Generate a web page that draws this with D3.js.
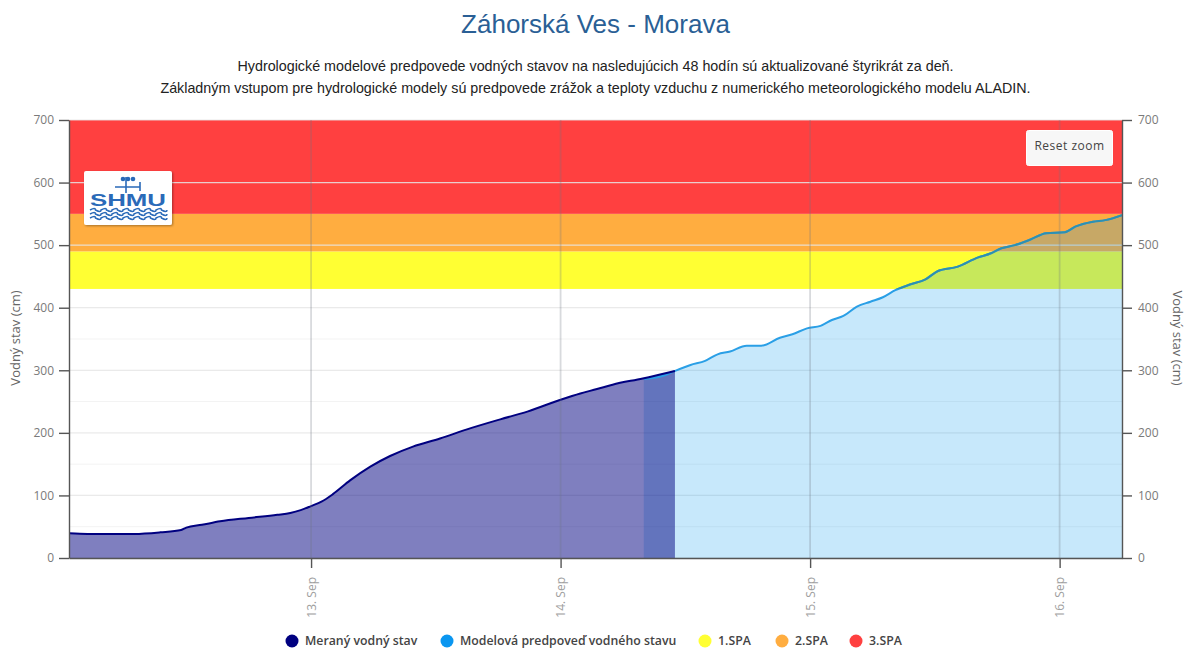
<!DOCTYPE html>
<html>
<head>
<meta charset="utf-8">
<title>Záhorská Ves - Morava</title>
<script src="https://cdn.jsdelivr.net/npm/d3@7"></script>
<style>
  html, body { margin: 0; padding: 0; background: #fff; }
  svg { display: block; }
  .axis text { font-family: "Open Sans", sans-serif; font-size: 12px; fill: #7a7a7a; }
  .axis path, .axis line { stroke: #555; stroke-width: 1.4; }
</style>
</head>
<body>
<svg id="chart" width="1200" height="671"></svg>
<script>
// hours counted from 12 Sep 00:00
var measuredHours = [0.75, 2.5, 7, 9.5, 11.5, 12, 13.5, 15.25, 18, 20.75, 22, 23, 24, 25, 26.1, 27.75, 29.7, 31.6, 33.8, 36.4, 39, 42.2, 44.8, 48, 49.9, 51.5, 53, 55.9, 59];
var measuredLevels = [39.5, 38.5, 38.5, 41, 44.7, 48.5, 53, 58.6, 64, 69, 72, 76.5, 83, 90, 102, 124, 146, 163, 178, 191, 205.6, 221.6, 234, 253, 263, 270, 277, 287, 299];

var forecastHours = [56, 58, 59, 60.5, 61.9, 63.1, 64.3, 65.9, 67.3, 69.1, 70.3, 71.7, 73, 74.1, 75.2, 76.5, 77.8, 79, 80.2, 81.6, 83.1, 84.3, 86.2, 88.1, 89.4, 90.4, 91.7, 93.2, 94.7, 96.5, 97.5, 99.2, 100.4, 102];
var forecastLevels = [286, 292, 299, 308.5, 315, 325.5, 330, 339.3, 339.3, 352, 357.5, 367, 371, 380.4, 386.8, 401.7, 409.6, 416.7, 428, 437, 445.4, 458.7, 465.6, 480, 487, 495, 500, 509, 519, 520.5, 529.5, 537.5, 540, 548];

var bandNames = ["1.SPA", "2.SPA", "3.SPA"];
var bandFrom = [430, 490, 550];
var bandTo = [490, 550, 700];
var bandColors = ["#ffff33", "#ffad40", "#ff4040"];

var yTicks = [0, 100, 200, 300, 400, 500, 600, 700];
var yMinorTicks = [50, 150, 250, 350];
var dayTicks = [13, 14, 15, 16];

var legendNames = ["Meraný vodný stav", "Modelová predpoveď vodného stavu"].concat(bandNames);
var legendColors = ["#000080", "#0a96f0"].concat(bandColors);
var legendX = [292, 447, 705, 782, 856];

var titleText = "Záhorská Ves - Morava";
var subtitleLines = [
  "Hydrologické modelové predpovede vodných stavov na nasledujúcich 48 hodín sú aktualizované štyrikrát za deň.",
  "Základným vstupom pre hydrologické modely sú predpovede zrážok a teploty vzduchu z numerického meteorologického modelu ALADIN."
];

var plotLeft = 69, plotRight = 1122, plotTop = 120, plotBottom = 558;
var base = new Date(2020, 8, 12);

function toDate(h) { return d3.timeMinute.offset(base, Math.round(h * 60)); }

var x = d3.scaleTime().domain([toDate(0.72), toDate(102)]).range([plotLeft, plotRight]);
var y = d3.scaleLinear().domain([0, 700]).range([plotBottom, plotTop]);

var svg = d3.select("#chart");

/* Title and subtitle */
svg.append("text").attr("x", 595.5).attr("y", 33).attr("text-anchor", "middle")
  .style("font-family", "'Liberation Sans', Arial, sans-serif").style("font-size", "26px")
  .style("fill", "#2a5f95").text(titleText);

svg.selectAll(".sub").data(subtitleLines).enter().append("text")
  .attr("class", "sub").attr("x", 595.5).attr("y", function(d, i) { return 71 + i * 22; })
  .attr("text-anchor", "middle")
  .style("font-family", "'Liberation Sans', Arial, sans-serif").style("font-size", "14.3px")
  .style("fill", "#222").text(function(d) { return d; });

/* Plot bands */
svg.selectAll(".band").data(bandFrom).enter().append("rect")
  .attr("class", "band").attr("x", plotLeft).attr("width", plotRight - plotLeft)
  .attr("y", function(d, i) { return y(bandTo[i]); })
  .attr("height", function(d, i) { return y(d) - y(bandTo[i]); })
  .attr("fill", function(d, i) { return bandColors[i]; });

/* Grid */
svg.selectAll(".minor").data(yMinorTicks).enter().append("line")
  .attr("x1", plotLeft).attr("x2", plotRight)
  .attr("y1", function(d) { return y(d); }).attr("y2", function(d) { return y(d); })
  .attr("stroke", "#f3f3f3").attr("stroke-width", 1);

svg.selectAll(".major").data(yTicks).enter().append("line")
  .attr("x1", plotLeft).attr("x2", plotRight)
  .attr("y1", function(d) { return y(d); }).attr("y2", function(d) { return y(d); })
  .attr("stroke", "#e6e6e6").attr("stroke-opacity", 0.85).attr("stroke-width", 1.2);

/* Series */
var areaGen = d3.area().curve(d3.curveMonotoneX)
  .x(function(d) { return x(toDate(d[0])); }).y0(y(0)).y1(function(d) { return y(d[1]); });
var lineGen = d3.line().curve(d3.curveMonotoneX)
  .x(function(d) { return x(toDate(d[0])); }).y(function(d) { return y(d[1]); });

var measured = d3.zip(measuredHours, measuredLevels);
var forecast = d3.zip(forecastHours, forecastLevels);

svg.append("clipPath").attr("id", "overBands").append("rect")
  .attr("x", plotLeft).attr("width", plotRight - plotLeft).attr("y", plotTop).attr("height", y(430) - plotTop);

svg.append("path").datum(forecast).attr("d", areaGen).attr("fill", "#0095ef").attr("fill-opacity", 0.22);
svg.append("path").datum(measured).attr("d", areaGen).attr("fill", "#000080").attr("fill-opacity", 0.5);

svg.append("path").datum(forecast).attr("d", lineGen).attr("fill", "none")
  .attr("stroke", "#2a9fe6").attr("stroke-width", 2);
svg.append("path").datum(measured).attr("d", lineGen).attr("fill", "none")
  .attr("stroke", "#000080").attr("stroke-width", 2);
// the forecast line looks teal where it runs over the warning bands
svg.append("path").datum(forecast).attr("d", lineGen).attr("fill", "none")
  .attr("clip-path", "url(#overBands)").attr("stroke", "#2f90b0").attr("stroke-width", 2);

/* Day grid lines */
var dayDates = dayTicks.map(function(d) { return new Date(2020, 8, d); });
svg.selectAll(".day").data(dayDates).enter().append("line")
  .attr("x1", function(d) { return x(d); }).attr("x2", function(d) { return x(d); })
  .attr("y1", plotTop).attr("y2", plotBottom)
  .attr("stroke", "rgb(110,120,130)").attr("stroke-opacity", 0.27).attr("stroke-width", 1.8);

/* Axes */
svg.append("g").attr("class", "axis").attr("transform", "translate(" + plotLeft + ",0)")
  .call(d3.axisLeft(y).tickValues(yTicks).tickSize(10).tickPadding(5).tickSizeOuter(0));
svg.append("g").attr("class", "axis").attr("transform", "translate(" + plotRight + ",0)")
  .call(d3.axisRight(y).tickValues(yTicks).tickSize(10).tickPadding(6).tickSizeOuter(0));

var xAxis = svg.append("g").attr("class", "axis").attr("transform", "translate(0," + plotBottom + ")")
  .call(d3.axisBottom(x).tickValues(dayDates).tickSize(10).tickSizeOuter(0)
    .tickFormat(function(d) { return d3.timeFormat("%e")(d).trim() + ". Sep"; }));
xAxis.selectAll("text")
  .attr("transform", "rotate(-90)").attr("text-anchor", "end")
  .attr("x", -19).attr("y", 0).attr("dy", "0.35em")
  .style("fill", "#a0a0a0");

svg.append("text").attr("transform", "translate(20,338) rotate(-90)").attr("text-anchor", "middle")
  .style("font-family", "'Open Sans', sans-serif").style("font-size", "13px").style("fill", "#666")
  .text("Vodný stav (cm)");
svg.append("text").attr("transform", "translate(1173,338) rotate(90)").attr("text-anchor", "middle")
  .style("font-family", "'Open Sans', sans-serif").style("font-size", "13px").style("fill", "#666")
  .text("Vodný stav (cm)");

/* Legend */
var legend = svg.selectAll(".legend").data(legendNames).enter().append("g")
  .attr("transform", function(d, i) { return "translate(" + legendX[i] + ",641)"; });
legend.append("circle").attr("r", 6.5).attr("fill", function(d, i) { return legendColors[i]; });
legend.append("text").attr("x", 13).attr("dy", "0.35em")
  .style("font-family", "'Open Sans', sans-serif").style("font-size", "12.3px").style("font-weight", 600)
  .style("fill", "#444").text(function(d) { return d; });

/* Reset zoom button */
var shadow = svg.append("defs").append("filter").attr("id", "shadow")
  .attr("x", "-10%").attr("y", "-10%").attr("width", "125%").attr("height", "125%");
shadow.append("feDropShadow").attr("dx", 1).attr("dy", 1).attr("stdDeviation", 1.2)
  .attr("flood-color", "#000").attr("flood-opacity", 0.35);

svg.append("rect").attr("x", 1026.5).attr("y", 130.5).attr("width", 86).attr("height", 35).attr("rx", 2)
  .attr("fill", "#f7f7f7").attr("stroke", "#fff");
svg.append("text").attr("x", 1069.5).attr("y", 150).attr("text-anchor", "middle")
  .style("font-family", "'Open Sans', sans-serif").style("font-size", "12px").style("letter-spacing", "0.5px")
  .style("fill", "#444").text("Reset zoom");

/* SHMU logo */
var logo = svg.append("g").attr("transform", "translate(84,171)");
logo.append("rect").attr("width", 88).attr("height", 54).attr("rx", 2).attr("fill", "#fff").attr("filter", "url(#shadow)");
logo.append("text").attr("x", 44).attr("y", 35).attr("text-anchor", "middle")
  .style("font-family", "'Liberation Sans', sans-serif").style("font-size", "17px").style("font-weight", "bold")
  .attr("textLength", 76).attr("lengthAdjust", "spacingAndGlyphs")
  .style("fill", "#2a6ab8").text("SHMU");
// wind vane
logo.append("path").attr("d", "M31 16H56M42 6V22M56 11V20").attr("stroke", "#2a6ab8").attr("stroke-width", 1.6).attr("fill", "none");
logo.selectAll(".cup").data([39, 44, 49]).enter().append("circle")
  .attr("cx", function(d) { return d; }).attr("cy", 8).attr("r", 2.3).attr("fill", "#2a6ab8");
// waves
logo.selectAll(".wave").data([39, 43, 47]).enter().append("path")
  .attr("d", function(d) {
    var p = "M6 " + d;
    for (var i = 0; i < 7; i++) { p += "q5.5 -3 5.5 0 " + "q5.5 3 5.5 0 "; }
    return p;
  })
  .attr("fill", "none").attr("stroke", "#2a6ab8").attr("stroke-width", 1.5);
</script>
</body>
</html>
